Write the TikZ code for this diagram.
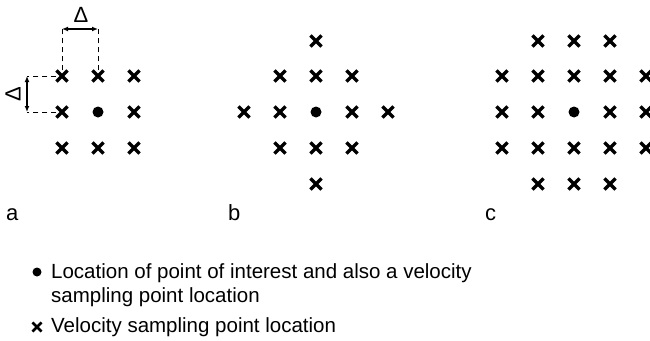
\documentclass[tikz,border=0pt]{standalone}
\usepackage{fontspec}
\setmainfont{Liberation Sans}
\usetikzlibrary{shapes.misc,arrows.meta}
\begin{document}
\begin{tikzpicture}[x=1pt,y=-1pt,
  xm/.style={cross out,draw,line width=3.2pt,minimum size=8pt,inner sep=0pt},
  xms/.style={cross out,draw,line width=2.6pt,minimum size=6.5pt,inner sep=0pt},
  dot/.style={circle,fill,minimum size=11pt,inner sep=0pt},
  dots/.style={circle,fill,minimum size=9pt,inner sep=0pt},
  dim/.style={line width=1pt,dash pattern=on 5pt off 4pt},
  dimarr/.style={{Latex[length=6pt,width=5pt]}-{Latex[length=6pt,width=5pt]},line width=1.2pt},
  dlt/.style={font=\fontsize{22}{24}\selectfont,inner sep=0pt},
  lbl/.style={font=\fontsize{22}{24}\selectfont,inner sep=0pt,anchor=base west},
  leg/.style={font=\fontsize{20.5}{24}\selectfont,inner sep=0pt,anchor=base west}]
\useasboundingbox (0,0) rectangle (650,340);
% panel a
\foreach \c/\x in {1/62,2/98,3/134}{
  \foreach \r/\y in {1/76,2/112,3/148}{
    \ifnum\c\r=22\relax\else\node[xm] (a\c\r) at (\x,\y) {};\fi
  }}
\node[dot] (a22) at (98,112) {};
% horizontal delta
\coordinate (h1) at (62,29);
\coordinate (h2) at (98,29);
\draw[dim] (a11.north) -- (h1);
\draw[dim] (a21.north) -- (h2);
\draw[dimarr] (h1) -- (h2);
\node[dlt] (dh) at (81,15) {Δ};
% vertical delta
\coordinate (v1) at (27,76);
\coordinate (v2) at (27,112);
\draw[dim] (a11.west) -- (v1);
\draw[dim] (a12.west) -- (v2);
\draw[dimarr] (v1) -- (v2);
\node[dlt,rotate=90] (dv) at (13,94) {Δ};
% panel b
\node[dot] (b0) at (316,112) {};
\foreach \n/\x/\y in {1/316/41,2/280/76,3/316/76,4/352/76,5/244/112,6/280/112,7/352/112,8/388/112,9/280/148,10/316/148,11/352/148,12/316/184}{
  \node[xm] (b\n) at (\x,\y) {};}
% panel c
\node[dot] (c0) at (574,112) {};
\foreach \n/\x/\y in {1/538/41,2/574/41,3/610/41,
  4/502/76,5/538/76,6/574/76,7/610/76,8/646/76,
  9/502/112,10/538/112,12/610/112,13/646/112,
  14/502/148,15/538/148,16/574/148,17/610/148,18/646/148,
  19/538/184,20/574/184,21/610/184}{
  \node[xm] (c\n) at (\x,\y) {};}
% labels
\node[lbl] (la) at (6,220) {a};
\node[lbl] (lb) at (228,220) {b};
\node[lbl] (lc) at (485,220) {c};
% legend
\node[dots] (ld) at (37,272) {};
\node[leg] (lt1) at (51,278) {Location of point of interest and also a velocity};
\node[leg] (lt2) at (51,302) {sampling point location};
\node[xms] (lx) at (37,327) {};
\node[leg] (lt3) at (51,332) {Velocity sampling point location};
\end{tikzpicture}
\end{document}
